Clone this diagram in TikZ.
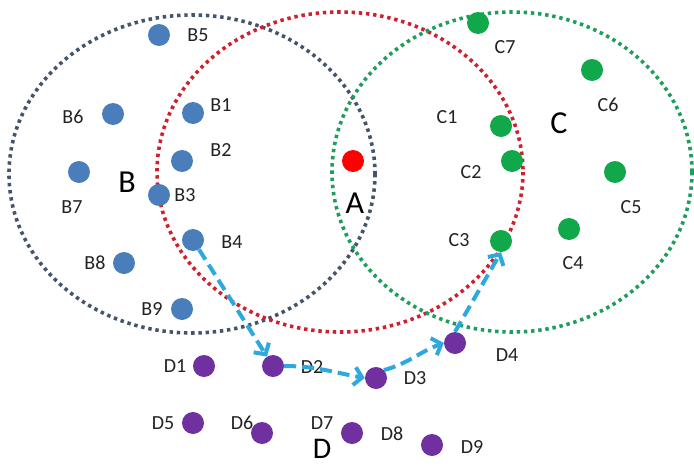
\documentclass[tikz,border=0pt]{standalone}
\usepackage{fontspec}
\setmainfont{Carlito}
\usetikzlibrary{arrows.meta}
\definecolor{setB}{HTML}{44546A}
\definecolor{setA}{HTML}{D0202E}
\definecolor{setC}{HTML}{1E9E5A}
\definecolor{dotB}{HTML}{4A7EBB}
\definecolor{dotC}{HTML}{10A84A}
\definecolor{dotD}{HTML}{7030A0}
\definecolor{dotA}{HTML}{FF0000}
\definecolor{routecol}{HTML}{2EA9DF}
\definecolor{txt}{HTML}{222222}
\begin{document}
\begin{tikzpicture}[x=1pt,y=-1pt,
  setline/.style={line width=3.6pt, dash pattern=on 3.4pt off 3.8pt},
  pt/.style={circle, inner sep=0pt, minimum size=22pt},
  lbl/.style={font=\fontsize{20}{20}\selectfont, text=txt, inner sep=1pt},
  big/.style={font=\fontsize{32}{32}\selectfont, text=black, inner sep=1pt},
  route/.style={line width=4pt, draw=routecol, dash pattern=on 12pt off 6pt,
    -{Straight Barb[length=8pt,width=18pt,line width=4pt]}}]
\fill[white] (0,0) rectangle (694,466);
\useasboundingbox (0,0) rectangle (694,466);

% the three sets
\draw[setline, setB] (192,174) ellipse [x radius=183, y radius=159];
\draw[setline, setA] (340,172) ellipse [x radius=183, y radius=160];
\draw[setline, setC] (512,172) ellipse [x radius=180, y radius=160];

% set names
\node[big] (nB) at (127,182) {B};
\node[big] (nA) at (355,203) {A};
\node[big] (nC) at (559,123) {C};
\node[big, font=\fontsize{30}{30}\selectfont, anchor=base, text depth=0pt] (nD) at (322,458) {D};

% element A
\node[pt, fill=dotA] (A) at (353,161) {};

% elements of B
\node[pt, fill=dotB] (B1) at (193,113) {};
\node[pt, fill=dotB] (B2) at (182,161) {};
\node[pt, fill=dotB] (B3) at (159,195) {};
\node[pt, fill=dotB] (B4) at (193,240) {};
\node[pt, fill=dotB] (B5) at (159,35) {};
\node[pt, fill=dotB] (B6) at (113,114) {};
\node[pt, fill=dotB] (B7) at (79,172) {};
\node[pt, fill=dotB] (B8) at (124,263) {};
\node[pt, fill=dotB] (B9) at (182,309) {};
\node[lbl] (lB1) at (221,105) {B1};
\node[lbl] (lB2) at (221,150) {B2};
\node[lbl] (lB3) at (185,195) {B3};
\node[lbl] (lB4) at (232,242) {B4};
\node[lbl] (lB5) at (198,35) {B5};
\node[lbl] (lB6) at (73,117) {B6};
\node[lbl] (lB7) at (72,207) {B7};
\node[lbl] (lB8) at (95,263) {B8};
\node[lbl] (lB9) at (152,309) {B9};

% elements of C
\node[pt, fill=dotC] (C1) at (501,126) {};
\node[pt, fill=dotC] (C2) at (512,161) {};
\node[pt, fill=dotC] (C3) at (501,241) {};
\node[pt, fill=dotC] (C4) at (569,229) {};
\node[pt, fill=dotC] (C5) at (615,172) {};
\node[pt, fill=dotC] (C6) at (592,70) {};
\node[pt, fill=dotC] (C7) at (478,23) {};
\node[lbl] (lC1) at (447,117) {C1};
\node[lbl] (lC2) at (471,172) {C2};
\node[lbl] (lC3) at (459,240) {C3};
\node[lbl] (lC4) at (573,263) {C4};
\node[lbl] (lC5) at (631,207) {C5};
\node[lbl] (lC6) at (608,105) {C6};
\node[lbl] (lC7) at (505,47) {C7};

% elements of D
\node[pt, fill=dotD] (D1) at (204,366) {};
\node[pt, fill=dotD] (D2) at (273,366) {};
\node[pt, fill=dotD] (D3) at (376,378) {};
\node[pt, fill=dotD] (D4) at (455,343) {};
\node[pt, fill=dotD] (D5) at (193,423) {};
\node[pt, fill=dotD] (D6) at (262,433) {};
\node[pt, fill=dotD] (D7) at (352,433) {};
\node[pt, fill=dotD] (D8) at (432,445) {};
\node[lbl] (lD1) at (175,366) {D1};
\node[lbl] (lD3) at (415,378) {D3};
\node[lbl] (lD4) at (507,355) {D4};
\node[lbl] (lD5) at (163,423) {D5};
\node[lbl] (lD6) at (242,423) {D6};
\node[lbl] (lD7) at (322,423) {D7};
\node[lbl] (lD8) at (392,434) {D8};
\node[lbl] (lD9) at (472,447) {D9};

% route from B4 through D to C3
\draw[route] (B4) -- (D2);
\node[lbl] (lD2) at (312,367) {D2};
\draw[route] (D2.east) to[out=0, in=170] (D3.west);
\draw[route] (D3.north east) to[out=15, in=200] (D4.west);
\draw[route] (D4.north) -- (C3.south);
\end{tikzpicture}
\end{document}
